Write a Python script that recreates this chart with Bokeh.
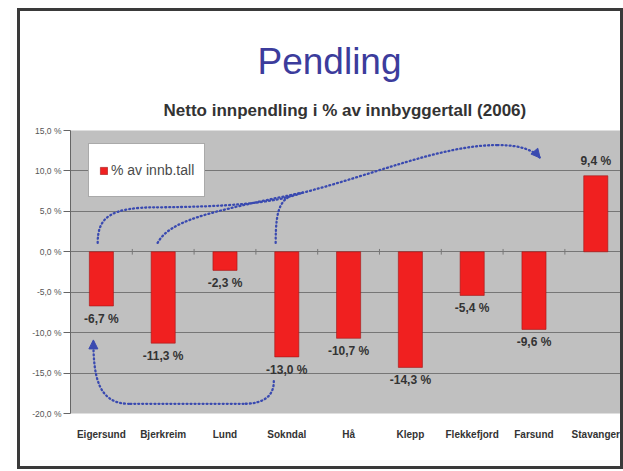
from bokeh.plotting import figure
from bokeh.models import (Range1d, FixedTicker, Arrow, NormalHead, ColumnDataSource,
                          Legend, Title)
from bokeh.layouts import column
from bokeh.embed import file_html
from bokeh.resources import INLINE
from bokeh.core.properties import value

# ---------------- data ----------------
categories = ["Eigersund", "Bjerkreim", "Lund", "Sokndal", "Hå", "Klepp",
              "Flekkefjord", "Farsund", "Stavanger"]
values = [-6.7, -11.3, -2.3, -13.0, -10.7, -14.3, -5.4, -9.6, 9.4]
value_labels = ["-6,7 %", "-11,3 %", "-2,3 %", "-13,0 %", "-10,7 %", "-14,3 %",
                "-5,4 %", "-9,6 %", "9,4 %"]
y_ticks = [-20, -15, -10, -5, 0, 5, 10, 15]
y_tick_labels = ["-20,0 %", "-15,0 %", "-10,0 %", "-5,0 %", "0,0 %", "5,0 %", "10,0 %", "15,0 %"]
series_name = "% av innb.tall"
title_text = "Pendling"
subtitle_text = "Netto innpendling i % av innbyggertall (2006)"

# dotted commuting arrows (annotation curves, data coords: category index, percent)
curve_x0 = [-0.06, 0.9, 0.91, 2.82, 3.25, 6.41, 2.79, 2.3, 0.45]
curve_y0 = [1.1, 5.5, 1.1, 1.1, 7.3, 13.2, -16.0, -18.8, -18.8]
curve_x1 = [0.9, 3.25, 3.25, 3.25, 6.41, 7.1, 2.3, 0.45, -0.13]
curve_y1 = [5.5, 7.3, 7.3, 7.3, 13.2, 11.6, -18.8, -18.8, -10.9]
curve_cx0 = [-0.06, 2.0, 1.1, 2.82, 4.4, 6.8, 2.79, 1.7, -0.05]
curve_cy0 = [4.3, 5.55, 3.8, 5.6, 9.5, 13.2, -18.0, -18.8, -18.8]
curve_cx1 = [0.15, 2.8, 1.7, 2.9, 5.5, 7.0, 2.6, 1.0, -0.13]
curve_cy1 = [5.5, 6.0, 4.9, 6.9, 13.2, 12.5, -18.8, -18.8, -15.5]
head_x_start = [7.0, -0.13]
head_y_start = [12.5, -13.0]
head_x_end = [7.1, -0.13]
head_y_end = [11.6, -10.9]

# ---------------- figure ----------------
FONT = "Liberation Sans"
BLUE = "#3a4ab0"
idx = list(range(len(categories)))

p = figure(width=600, height=455, output_backend="svg", toolbar_location=None,
           x_range=Range1d(-0.5, 8.4), y_range=Range1d(-20, 15),
           min_border_left=50, min_border_right=0, min_border_top=119, min_border_bottom=53,
           background_fill_color="#c0c0c0", border_fill_color="white")
p.outline_line_color = None

src = ColumnDataSource(dict(x=idx, top=values))
bars = p.vbar(x="x", top="top", bottom=0, width=0.39, source=src,
              fill_color="#f02020", line_color="#a01818", line_width=0.6)

# small category-boundary ticks on the zero line
bounds = [i + 0.5 for i in idx[:-1]]
p.segment(x0=bounds, x1=bounds, y0=[-0.35] * len(bounds), y1=[0.35] * len(bounds),
          line_color="#777777", line_width=1)

# gridlines / axes
p.xgrid.visible = False
p.ygrid.ticker = FixedTicker(ticks=y_ticks)
p.ygrid.grid_line_color = "#767676"
p.ygrid.grid_line_width = 1

p.yaxis.ticker = FixedTicker(ticks=y_ticks)
p.yaxis.major_label_overrides = {t: l for t, l in zip(y_ticks, y_tick_labels)}
p.yaxis.major_tick_out = 7
p.yaxis.major_tick_in = 0
p.yaxis.minor_tick_line_color = None
p.yaxis.axis_line_color = "#666666"
p.yaxis.major_tick_line_color = "#666666"
p.yaxis.major_label_text_font = FONT
p.yaxis.major_label_text_font_size = "8.5px"
p.yaxis.major_label_text_color = "#555555"
p.yaxis.major_label_standoff = 2

p.xaxis.ticker = FixedTicker(ticks=idx)
p.xaxis.major_label_overrides = {i: c for i, c in zip(idx, categories)}
p.xaxis.axis_line_color = None
p.xaxis.major_tick_line_color = None
p.xaxis.minor_tick_line_color = None
p.xaxis.major_label_text_font = FONT
p.xaxis.major_label_text_font_style = "bold"
p.xaxis.major_label_text_font_size = "10px"
p.xaxis.major_label_text_color = "#333333"
p.xaxis.major_label_standoff = 9

# value labels
neg = ColumnDataSource(dict(x=[i for i, v in zip(idx, values) if v < 0],
                            y=[v for v in values if v < 0],
                            t=[l for l, v in zip(value_labels, values) if v < 0]))
pos = ColumnDataSource(dict(x=[i for i, v in zip(idx, values) if v >= 0],
                            y=[v for v in values if v >= 0],
                            t=[l for l, v in zip(value_labels, values) if v >= 0]))
for s, base, off in ((neg, "top", 6), (pos, "bottom", -8)):
    p.text(x="x", y="y", text="t", source=s, text_align="center", text_baseline=base,
           y_offset=off, text_font=value(FONT), text_font_style="bold",
           text_font_size="12px", text_color="#333333")

# dotted curves
p.bezier(x0=curve_x0, y0=curve_y0, x1=curve_x1, y1=curve_y1,
         cx0=curve_cx0, cy0=curve_cy0, cx1=curve_cx1, cy1=curve_cy1,
         line_color=BLUE, line_width=2.3, line_dash="1 3", line_cap="round")
for xs, ys, xe, ye in zip(head_x_start, head_y_start, head_x_end, head_y_end):
    p.add_layout(Arrow(end=NormalHead(size=9, fill_color=BLUE, line_color=BLUE),
                       x_start=xs, y_start=ys, x_end=xe, y_end=ye, line_alpha=0))

# legend
legend = Legend(items=[(series_name, [bars])], location=(18, 216))
legend.margin = 0
legend.padding = 10
legend.label_height = 32
legend.glyph_width = 9
legend.glyph_height = 9
legend.label_standoff = 3
legend.label_text_font = FONT
legend.label_text_font_size = "14px"
legend.label_text_color = "#4a4a4a"
legend.border_line_color = "#555555"
legend.border_line_width = 1
legend.background_fill_color = "white"
legend.background_fill_alpha = 1
p.add_layout(legend, "center")

# titles
p.add_layout(Title(text=subtitle_text, align="left", offset=93, text_font=FONT,
                   text_font_style="bold", text_font_size="17px", text_color="#333333",
                   standoff=22), "above")
p.add_layout(Title(text=title_text, align="left", offset=187, text_font=FONT,
                   text_font_style="normal", text_font_size="37px", text_color="#3c3c9c",
                   standoff=11), "above")

layout = column(p, styles={"border": "3px solid #3a3a3a", "margin-left": "17px",
                           "margin-top": "8px"})

open("out.html", "w").write(file_html(layout, INLINE))
